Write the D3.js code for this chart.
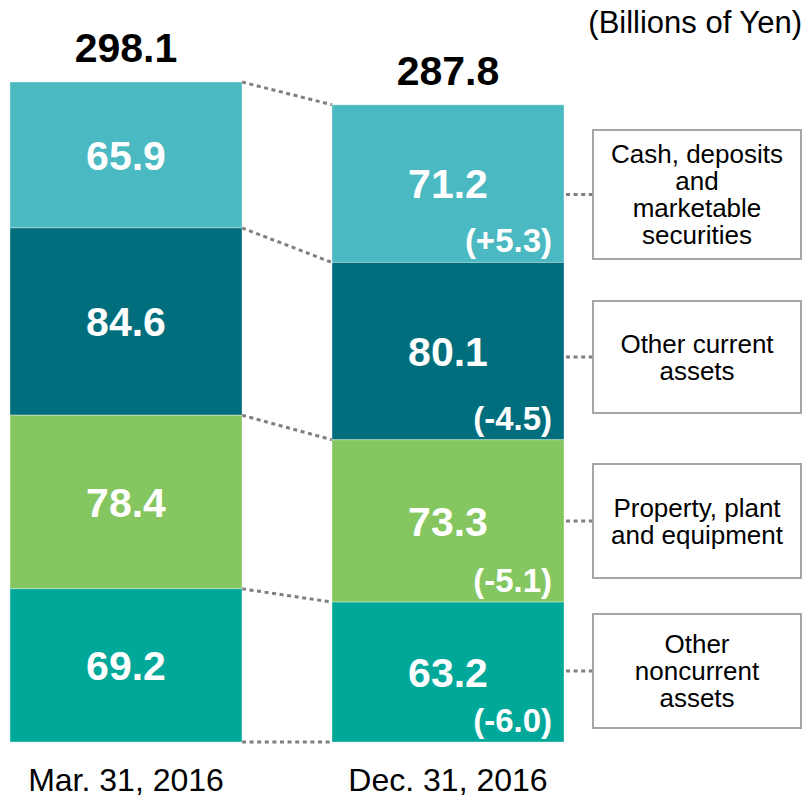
<!DOCTYPE html>
<html lang="en">
<head>
    <meta charset="UTF-8">
    <title>Total assets</title>
    <script src="https://d3js.org/d3.v7.min.js"></script>
    <style>
        body { margin: 0; background: #fff; }
        svg { display: block; font-family: "Liberation Sans", Arial, sans-serif; }
        .dots { stroke: #7f7f7f; stroke-width: 3; stroke-dasharray: 4 3.6; fill: none; }
        .val { fill: #fff; font-weight: bold; font-size: 41px; text-anchor: middle; }
        .chg { fill: #fff; font-weight: bold; font-size: 33px; text-anchor: end; }
        .total { fill: #000; font-weight: bold; font-size: 41px; text-anchor: middle; }
        .legend rect { fill: #fff; stroke: #a6a6a6; stroke-width: 2; }
        .legend text { font-size: 26px; text-anchor: middle; fill: #000; }
    </style>
</head>
<body>
<div id="chart"></div>
<script>
    // data (top of stack first)
    const dates = ["Mar. 31, 2016", "Dec. 31, 2016"];
    const items = [
        ["Cash, deposits", "and", "marketable", "securities"],
        ["Other current", "assets"],
        ["Property, plant", "and equipment"],
        ["Other", "noncurrent", "assets"]
    ];
    const mar2016 = [65.9, 84.6, 78.4, 69.2];
    const dec2016 = [71.2, 80.1, 73.3, 63.2];
    const changes = ["(+5.3)", "(-4.5)", "(-5.1)", "(-6.0)"];
    const totals = [298.1, 287.8];
    const colors = ["#4bb9c1", "#006e7d", "#85c661", "#00a899"];

    // legend box layout (top, height)
    const boxes = [[130, 129], [301, 112], [464, 114], [614, 114]];

    const W = 809, H = 797;
    const svg = d3.select("#chart").append("svg").attr("width", W).attr("height", H);

    const x = d3.scaleBand().domain(dates).range([10, 564]).paddingInner(0.2795).paddingOuter(0);
    const y = d3.scaleLinear().domain([0, d3.max(totals)]).range([742, 82]);

    // build stacks from bottom up
    const series = [mar2016, dec2016];
    const stacks = series.map((vals, j) => {
        let acc = 0;
        const out = [];
        for (let i = vals.length - 1; i >= 0; i--) {
            out[i] = { i, date: dates[j], v: vals[i], y0: acc, y1: acc + vals[i] };
            acc += vals[i];
        }
        return out;
    });

    // connector lines between bars
    const left = stacks[0], right = stacks[1];
    const conn = left.map((d, i) => ({ a: d.y1, b: right[i].y1 }));
    conn.push({ a: 0, b: 0 });
    svg.selectAll(".conn").data(conn).enter().append("line")
        .attr("class", "dots")
        .attr("x1", x(dates[0]) + x.bandwidth())
        .attr("x2", x(dates[1]))
        .attr("y1", d => y(d.a))
        .attr("y2", d => y(d.b));

    stacks.forEach((st, j) => {
        const g = svg.append("g");
        g.selectAll("rect").data(st).enter().append("rect")
            .attr("x", d => x(d.date))
            .attr("width", x.bandwidth())
            .attr("y", d => y(d.y1))
            .attr("height", d => y(d.y0) - y(d.y1))
            .attr("fill", d => colors[d.i])
            .attr("stroke", "rgba(255,255,255,0.35)")
            .attr("stroke-width", 1);

        g.selectAll(".val").data(st).enter().append("text")
            .attr("class", "val")
            .attr("x", d => x(d.date) + x.bandwidth() / 2)
            .attr("y", d => (y(d.y0) + y(d.y1)) / 2)
            .attr("dy", "0.36em")
            .text(d => d.v.toFixed(1));

        g.append("text")
            .attr("class", "total")
            .attr("x", x(dates[j]) + x.bandwidth() / 2)
            .attr("y", y(totals[j]) - 20)
            .text(totals[j].toFixed(1));

        g.append("text")
            .attr("x", x(dates[j]) + x.bandwidth() / 2)
            .attr("y", 791)
            .attr("text-anchor", "middle")
            .attr("font-size", "32px")
            .text(dates[j]);
    });

    // change labels on the Dec bar
    svg.selectAll(".chg").data(right).enter().append("text")
        .attr("class", "chg")
        .attr("x", x(dates[1]) + x.bandwidth() - 12)
        .attr("y", d => y(d.y0) - 10)
        .text(d => changes[d.i]);

    // legend boxes
    const lg = svg.selectAll(".legend").data(items).enter().append("g").attr("class", "legend");
    lg.append("line")
        .attr("class", "dots")
        .attr("x1", x(dates[1]) + x.bandwidth() + 2)
        .attr("x2", 593)
        .attr("y1", (d, i) => boxes[i][0] + boxes[i][1] / 2)
        .attr("y2", (d, i) => boxes[i][0] + boxes[i][1] / 2);
    lg.append("rect")
        .attr("x", 593).attr("width", 208)
        .attr("y", (d, i) => boxes[i][0])
        .attr("height", (d, i) => boxes[i][1]);
    lg.each(function (lines, i) {
        const cy = boxes[i][0] + boxes[i][1] / 2;
        const t = d3.select(this).append("text")
            .attr("x", 697)
            .attr("y", cy - (lines.length - 1) * 27 / 2);
        lines.forEach((s, k) => {
            t.append("tspan").attr("x", 697).attr("dy", k === 0 ? "0.36em" : 27).text(s);
        });
    });

    svg.append("text")
        .attr("x", 802).attr("y", 33)
        .attr("text-anchor", "end")
        .attr("font-size", "31px")
        .text("(Billions of Yen)");
</script>
</body>
</html>
